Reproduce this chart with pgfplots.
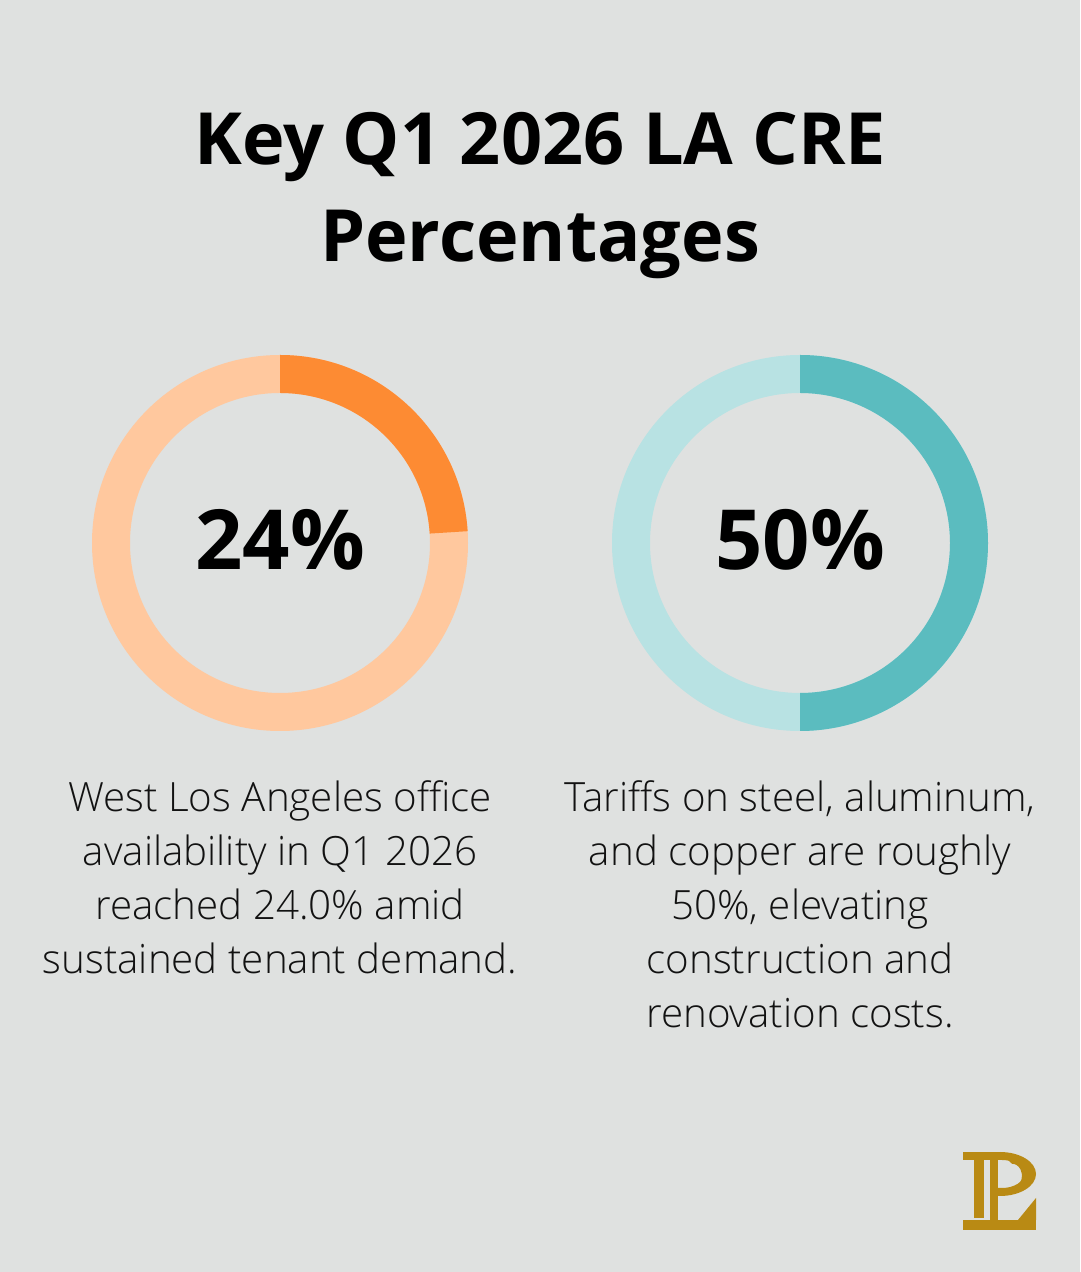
\documentclass[border=0pt]{standalone}
\usepackage{pgfplots}
\pgfplotsset{compat=1.18}
\usepackage{fontspec}
\setmainfont{Open Sans}
\newfontfamily\lightfont{Open Sans Light}
\definecolor{bg}{HTML}{DFE1E0}
\definecolor{orangeD}{HTML}{FD8B33}
\definecolor{orangeL}{HTML}{FFC89E}
\definecolor{tealD}{HTML}{5BBCBF}
\definecolor{tealL}{HTML}{B8E2E3}
\definecolor{gold}{HTML}{B98A14}
\begin{document}
\begin{tikzpicture}[x=1pt,y=1pt]
% values (percent)
\def\valA{24}
\def\valB{50}
\pgfmathsetmacro{\endA}{90-3.6*\valA}
\pgfmathsetmacro{\endB}{90-3.6*\valB}
\begin{axis}[x=1pt,y=1pt,xmin=0,xmax=1080,ymin=0,ymax=1272,
  hide axis, scale only axis, clip=false, anchor=south west, at={(0,0)}]
\fill[bg] (axis cs:0,0) rectangle (axis cs:1080,1272);
% left donut
\fill[orangeL, even odd rule] (axis cs:280,729) circle[radius=188] (axis cs:280,729) circle[radius=150];
\fill[orangeD] (axis cs:280,729) ++(90:188) arc[start angle=90,end angle=\endA,radius=188]
  -- ++(\endA:-38) arc[start angle=\endA,end angle=90,radius=150] -- cycle;
% right donut
\fill[tealL, even odd rule] (axis cs:800,729) circle[radius=188] (axis cs:800,729) circle[radius=150];
\fill[tealD] (axis cs:800,729) ++(90:188) arc[start angle=90,end angle=\endB,radius=188]
  -- ++(\endB:-38) arc[start angle=\endB,end angle=90,radius=150] -- cycle;
\end{axis}
% title
\node[anchor=base, font=\fontsize{72}{90}\selectfont\bfseries] at (540,{1272-165}) {Key Q1 2026 LA CRE};
\node[anchor=base, font=\fontsize{72}{90}\selectfont\bfseries] at (540,{1272-262}) {Percentages};
% centre numbers
\node[anchor=base, font=\fontsize{83}{100}\selectfont\bfseries] at (280,{1272-570}) {24\%};
\node[anchor=base, font=\fontsize{83}{100}\selectfont\bfseries] at (800,{1272-570}) {50\%};
% descriptions
\begin{scope}[every node/.style={anchor=base, font=\fontsize{40.3}{54}\selectfont\lightfont, text=black!93}]
\node at (280,{1272-812}) {West Los Angeles office};
\node at (280,{1272-866}) {availability in Q1 2026};
\node at (280,{1272-920}) {reached 24.0\% amid};
\node at (280,{1272-974}) {sustained tenant demand.};
\node at (800,{1272-812}) {Tariffs on steel, aluminum,};
\node at (800,{1272-866}) {and copper are roughly};
\node at (800,{1272-920}) {50\%, elevating};
\node at (800,{1272-974}) {construction and};
\node at (800,{1272-1028}) {renovation costs.};
\end{scope}
% logo
\begin{scope}[shift={(0,1272)}, yscale=-1]
\fill[gold] (963,1152) rectangle (1003,1160);
\fill[gold] (974,1160) rectangle (984,1218);
\fill[gold] (990,1160) rectangle (998,1220);
\fill[gold] (1000,1152) arc[start angle=-90,end angle=90,x radius=36,y radius=22] -- (998,1196) -- (998,1188) -- (1002,1188) arc[start angle=90,end angle=-90,x radius=22,y radius=14] -- cycle;
\fill[gold] (1008,1160) arc[start angle=-90,end angle=60,x radius=18,y radius=14] arc[start angle=60,end angle=-90,x radius=10,y radius=12] -- cycle;
\fill[gold] (963,1220) rectangle (1036,1230);
\fill[gold] (1018,1220) -- (1036,1198) -- (1036,1220) -- cycle;
\end{scope}
\end{tikzpicture}
\end{document}
